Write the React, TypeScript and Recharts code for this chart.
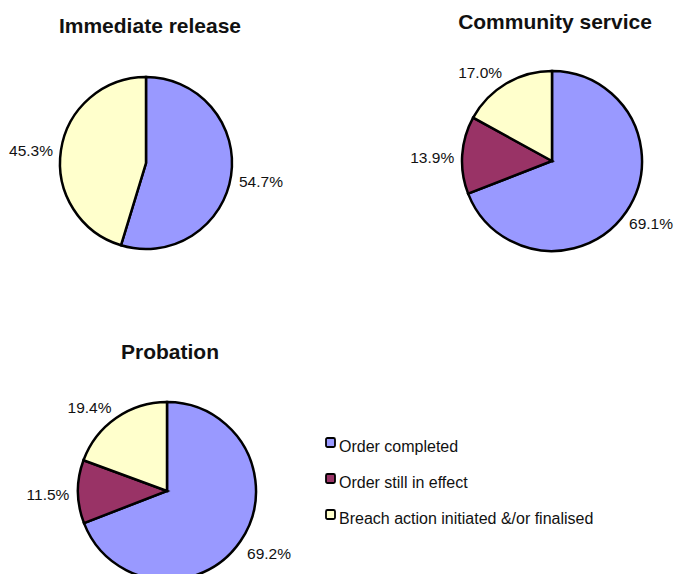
import React from "react";
import { PieChart, Pie, Cell, Legend } from "recharts";

const categories = ["Order completed", "Order still in effect", "Breach action initiated &/or finalised"];
const colors = ["#9999FF", "#993366", "#FFFFCC"];

const immediateRelease = [54.7, 0, 45.3];
const communityService = [69.1, 13.9, 17.0];
const probation = [69.2, 11.5, 19.4];

const FONT = "'Liberation Sans', Arial, sans-serif";
const WIDTH = 675;

const toRows = (values: number[]) =>
    values
        .map((v, i) => ({ name: categories[i], value: v, color: colors[i] }))
        .filter((d) => d.value > 0);

const RAD = Math.PI / 180;

// places the label box just outside the slice, like Excel does
const renderLabel = (props: any) => {
    const { cx, cy, midAngle, outerRadius, value } = props;
    const cos = Math.cos(-midAngle * RAD);
    const sin = Math.sin(-midAngle * RAD);
    const r = outerRadius + 8;
    const px = cx + r * cos;
    const py = cy + r * sin;
    const w = 44;
    const h = 16;
    let x = px + (w / 2) * Math.max(-1, Math.min(1, cos * 2));
    x = Math.min(x, WIDTH - w / 2 - 2);
    const y = py + (h / 2) * sin + 3;
    return (
        <g>
            <text
                x={x}
                y={y}
                textAnchor="middle"
                dominantBaseline="central"
                fontSize={15.5}
                fontFamily={FONT}
                fill="#111"
            >
                {`${value.toFixed(1)}%`}
            </text>
        </g>
    );
};

const LegendBox = () => (
    <svg width={320} height={100}>
        {categories.map((c, i) => (
            <g key={c}>
                <rect
                    x={1}
                    y={1 + i * 36}
                    width={9}
                    height={9}
                    rx={1.5}
                    fill={colors[i]}
                    stroke="#000"
                    strokeWidth={1.8}
                />
                <text x={14} y={15 + i * 36} fontSize={16} fontFamily={FONT} fill="#111">
                    {c}
                </text>
            </g>
        ))}
    </svg>
);

const pies = [
    { title: "Immediate release", data: immediateRelease, cx: 146, cy: 163, r: 86, tx: 150, ty: 33 },
    { title: "Community service", data: communityService, cx: 552, cy: 161, r: 90, tx: 555, ty: 29 },
    { title: "Probation", data: probation, cx: 167, cy: 491, r: 89, tx: 170, ty: 359 },
];

export default function App() {
    return (
        <div style={{ position: "absolute", left: 0, top: 0, width: WIDTH, height: 574, background: "#fff" }}>
            <PieChart width={WIDTH} height={574} margin={{ top: 0, right: 0, bottom: 0, left: 0 }}>
                {pies.map((p) => (
                    <Pie
                        key={p.title}
                        data={toRows(p.data)}
                        dataKey="value"
                        nameKey="name"
                        cx={p.cx}
                        cy={p.cy}
                        outerRadius={p.r}
                        startAngle={90}
                        endAngle={-270}
                        stroke="#000"
                        strokeWidth={2.5}
                        label={renderLabel}
                        labelLine={false}
                        isAnimationActive={false}
                    >
                        {toRows(p.data).map((d) => (
                            <Cell key={d.name} fill={d.color} />
                        ))}
                    </Pie>
                ))}
                {pies.map((p) => (
                    <text
                        key={p.title + "-t"}
                        x={p.tx}
                        y={p.ty}
                        textAnchor="middle"
                        fontSize={21}
                        fontWeight="bold"
                        fontFamily={FONT}
                        fill="#111"
                    >
                        {p.title}
                    </text>
                ))}
                <Legend
                    content={() => <LegendBox />}
                    wrapperStyle={{ position: "absolute", left: 325, top: 437, bottom: "auto", width: 330 }}
                />
            </PieChart>
        </div>
    );
}
